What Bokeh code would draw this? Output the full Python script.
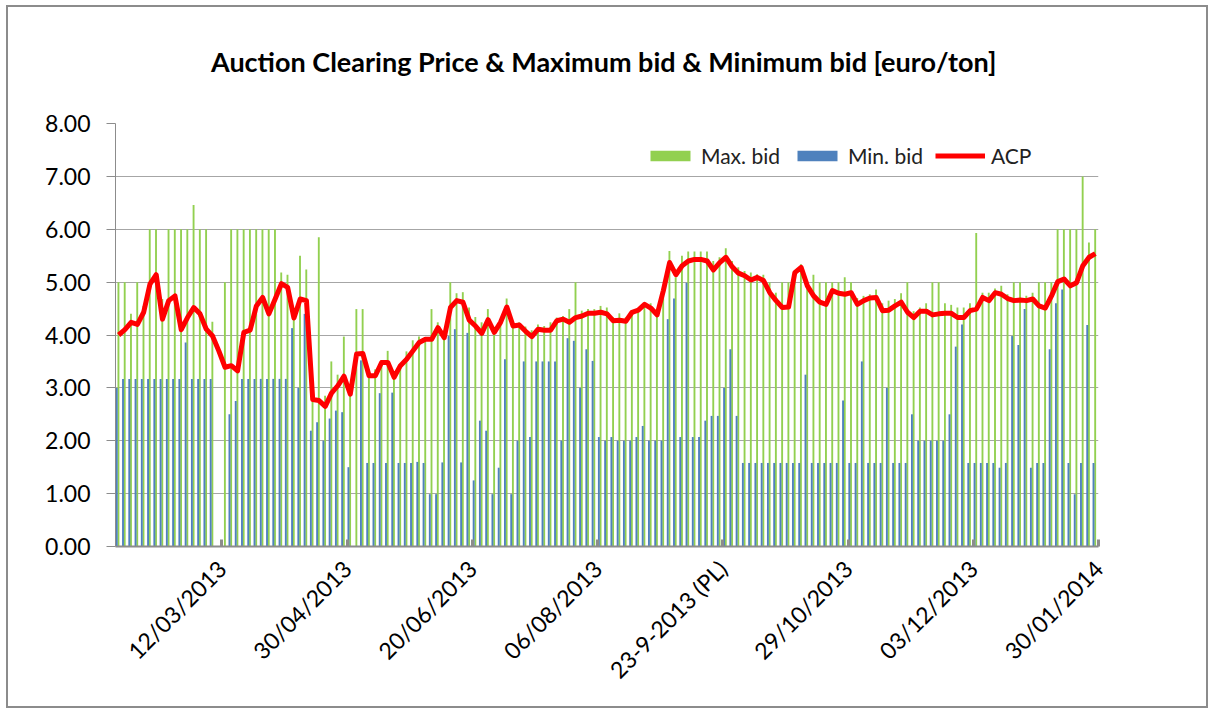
import math
from bokeh.plotting import figure
from bokeh.models import Range1d, FixedTicker, Legend, LegendItem, NumeralTickFormatter, ColumnDataSource, Title
from bokeh.embed import file_html
from bokeh.resources import INLINE

# ---------------- data (one value per auction day) ----------------
max_bid = [
    5.0, 5.0, 4.4, 5.0, 4.55, 6.0, 6.0, 4.68, 6.0, 6.0,
    6.0, 6.0, 6.46, 6.0, 6.0, 4.25, 0.0, 5.0, 6.0, 6.0,
    6.0, 6.0, 6.0, 6.0, 6.0, 6.0, 5.18, 5.14, 4.4, 5.5,
    5.24, 2.85, 5.85, 2.85, 3.5, 3.25, 3.97, 2.95, 4.49, 4.49,
    3.3, 3.35, 3.52, 3.7, 3.28, 3.45, 3.69, 3.9, 3.97, 3.95,
    4.49, 4.24, 4.08, 5.0, 4.79, 4.81, 4.52, 4.34, 4.24, 4.49,
    4.11, 4.27, 4.69, 4.27, 4.24, 4.16, 4.09, 4.2, 4.17, 4.24,
    4.33, 4.36, 4.49, 5.0, 4.46, 4.49, 4.49, 4.55, 4.52, 4.33,
    4.41, 4.33, 4.45, 4.49, 4.6, 4.6, 4.42, 4.9, 5.59, 5.09,
    5.5, 5.58, 5.58, 5.58, 5.58, 5.4, 5.47, 5.64, 5.4, 5.28,
    5.21, 5.18, 5.15, 5.14, 5.0, 4.8, 5.0, 5.0, 5.18, 5.34,
    5.0, 5.14, 5.0, 5.0, 5.0, 5.0, 5.09, 5.0, 4.7, 4.74,
    4.77, 4.86, 4.6, 4.65, 4.68, 4.79, 5.0, 4.45, 4.52, 4.6,
    5.0, 5.0, 4.6, 4.57, 4.52, 4.52, 4.6, 5.93, 4.8, 4.8,
    4.88, 4.93, 4.77, 5.0, 5.0, 4.74, 4.8, 5.0, 5.0, 5.0,
    6.0, 6.0, 6.0, 6.0, 7.0, 5.75, 6.0,
]
min_bid = [
    3.0, 3.17, 3.17, 3.17, 3.17, 3.17, 3.17, 3.17, 3.17, 3.17,
    3.17, 3.86, 3.17, 3.17, 3.17, 3.17, 0.0, 0.0, 2.5, 2.75,
    3.17, 3.17, 3.17, 3.17, 3.17, 3.17, 3.17, 3.17, 4.13, 3.0,
    4.4, 2.19, 2.35, 2.0, 2.42, 2.57, 2.54, 1.5, 0.0, 3.52,
    1.58, 1.58, 2.9, 1.58, 2.91, 1.58, 1.58, 1.58, 1.6, 1.58,
    0.99, 0.99, 1.59, 3.98, 4.11, 1.59, 4.04, 1.25, 2.38, 2.19,
    0.99, 1.49, 3.54, 0.99, 2.0, 3.5, 2.07, 3.5, 3.5, 3.5,
    3.5, 2.0, 3.94, 3.89, 3.0, 3.73, 3.51, 2.07, 2.0, 2.07,
    2.0, 2.0, 2.0, 2.07, 2.28, 2.0, 2.0, 2.0, 4.3, 4.69,
    2.07, 4.99, 2.07, 2.07, 2.38, 2.47, 2.47, 3.0, 3.73, 2.47,
    1.58, 1.58, 1.58, 1.58, 1.58, 1.58, 1.58, 1.58, 1.58, 1.58,
    3.25, 1.58, 1.58, 1.58, 1.58, 1.58, 2.76, 1.58, 1.58, 3.5,
    1.58, 1.58, 1.58, 3.0, 1.58, 1.58, 1.58, 2.5, 2.0, 2.0,
    2.0, 2.0, 2.0, 2.5, 3.78, 4.2, 1.58, 1.58, 1.58, 1.58,
    1.58, 1.49, 1.58, 3.98, 3.81, 4.49, 1.49, 1.58, 1.58, 3.73,
    4.6, 4.86, 1.58, 0.99, 1.58, 4.19, 1.58,
]
acp = [
    4.0, 4.1, 4.24, 4.2, 4.43, 4.96, 5.14, 4.3, 4.65, 4.74,
    4.1, 4.33, 4.52, 4.4, 4.11, 3.98, 3.7, 3.39, 3.42, 3.32,
    4.05, 4.09, 4.55, 4.71, 4.4, 4.68, 4.97, 4.9, 4.32, 4.68,
    4.65, 2.78, 2.76, 2.65, 2.9, 3.04, 3.22, 2.88, 3.64, 3.65,
    3.23, 3.23, 3.48, 3.48, 3.2, 3.42, 3.54, 3.7, 3.86, 3.92,
    3.92, 4.14, 3.95, 4.52, 4.65, 4.62, 4.28, 4.17, 4.03, 4.29,
    4.05, 4.24, 4.53, 4.17, 4.19, 4.07, 3.97, 4.11, 4.09, 4.09,
    4.27, 4.3, 4.24, 4.33, 4.36, 4.41, 4.41, 4.43, 4.4, 4.27,
    4.28, 4.26, 4.43, 4.47, 4.58, 4.51, 4.38, 4.84, 5.37, 5.14,
    5.31, 5.4, 5.43, 5.43, 5.4, 5.23, 5.37, 5.47, 5.29, 5.17,
    5.12, 5.04, 5.09, 5.03, 4.8, 4.65, 4.52, 4.53, 5.18, 5.28,
    4.93, 4.74, 4.62, 4.58, 4.84, 4.79, 4.77, 4.8, 4.58, 4.65,
    4.7, 4.71, 4.46, 4.47, 4.55, 4.62, 4.43, 4.33, 4.45, 4.45,
    4.38, 4.4, 4.41, 4.41, 4.33, 4.33, 4.46, 4.49, 4.71, 4.65,
    4.8, 4.77, 4.69, 4.65, 4.66, 4.65, 4.68, 4.55, 4.51, 4.74,
    5.01, 5.06, 4.93, 4.99, 5.31, 5.47, 5.54,
]
tick_positions = [17, 37, 57, 77, 97, 117, 137, 157]
tick_labels = ["12/03/2013", "30/04/2013", "20/06/2013", "06/08/2013",
               "23-9-2013 (PL)", "29/10/2013", "03/12/2013", "30/01/2014"]
y_ticks = [0, 1, 2, 3, 4, 5, 6, 7, 8]
title_text = "Auction Clearing Price & Maximum bid  & Minimum bid [euro/ton]"

n = len(acp)
idx = list(range(n))
src = ColumnDataSource(dict(
    xg=[i + 0.47 for i in idx],
    xb=[i + 0.2 for i in idx],
    xc=[i + 0.5 for i in idx],
    max_bid=max_bid, min_bid=min_bid, acp=acp,
))

FONT = "Lato"
GRAY = "#8c8c8c"

p = figure(frame_width=983, frame_height=423, title=None,
           x_range=Range1d(0, n), y_range=Range1d(0, 8),
           output_backend="svg", toolbar_location=None,
           min_border_left=107, min_border_right=108,
           min_border_top=116, min_border_bottom=160,
           background_fill_color="white", border_fill_color="white")
p.styles = {"border": "2px solid #8c8c8c", "margin-left": "6px", "margin-top": "5px"}
p.outline_line_color = None

# spacer (inner, next to the frame) and real title (outer)
spacer = Title(text=" ", text_font_size="40px", standoff=0)
main_title = Title(text=title_text, align="center", text_font=FONT,
                   text_font_style="bold", text_font_size="27px",
                   text_color="#000000", standoff=0)
p.add_layout(spacer, "above")
p.add_layout(main_title, "above")

green = p.vbar(x="xg", top="max_bid", width=0.3, source=src,
               fill_color="#92D050", line_color=None)
blue = p.vbar(x="xb", top="min_bid", width=0.3, source=src,
              fill_color="#4F81BD", line_color=None)
red = p.line(x="xc", y="acp", source=src, line_color="#FF0000",
             line_width=5, line_join="round")

# axes
p.xaxis.ticker = FixedTicker(ticks=tick_positions)
p.xaxis.major_label_overrides = {t: l for t, l in zip(tick_positions, tick_labels)}
p.xaxis.major_label_orientation = math.pi / 4
p.xaxis.major_label_text_font = FONT
p.xaxis.major_label_text_font_size = "23px"
p.xaxis.major_label_text_color = "#000000"
p.xaxis.major_label_standoff = 18
p.xaxis.major_tick_in = 7
p.xaxis.major_tick_out = 0
p.xaxis.major_tick_line_width = 3
p.xaxis.major_tick_line_color = GRAY
p.xaxis.minor_tick_line_color = None
p.xaxis.axis_line_color = GRAY
p.xaxis.axis_line_width = 2

p.yaxis.ticker = FixedTicker(ticks=y_ticks)
p.yaxis.formatter = NumeralTickFormatter(format="0.00")
p.yaxis.major_label_text_font = FONT
p.yaxis.major_label_text_font_size = "23px"
p.yaxis.major_label_text_color = "#000000"
p.yaxis.major_label_standoff = 16
p.yaxis.major_tick_in = 0
p.yaxis.major_tick_out = 9
p.yaxis.major_tick_line_color = GRAY
p.yaxis.minor_tick_line_color = None
p.yaxis.axis_line_color = GRAY

p.xgrid.grid_line_color = None
p.ygrid.grid_line_color = "#a6a6a6"
p.ygrid.grid_line_width = 1

legend = Legend(items=[
    LegendItem(label="Max. bid", renderers=[green]),
    LegendItem(label="Min. bid", renderers=[blue]),
    LegendItem(label="ACP", renderers=[red]),
], orientation="horizontal", location=(530, 378))
legend.glyph_width = 50
legend.glyph_height = 13
legend.label_text_font = FONT
legend.label_text_font_size = "21px"
legend.label_text_color = "#222222"
legend.label_standoff = 6
legend.spacing = 12
legend.padding = 0
legend.margin = 0
legend.background_fill_alpha = 0
legend.border_line_alpha = 0
p.add_layout(legend, "center")

open("out.html", "w").write(file_html(p, INLINE))
